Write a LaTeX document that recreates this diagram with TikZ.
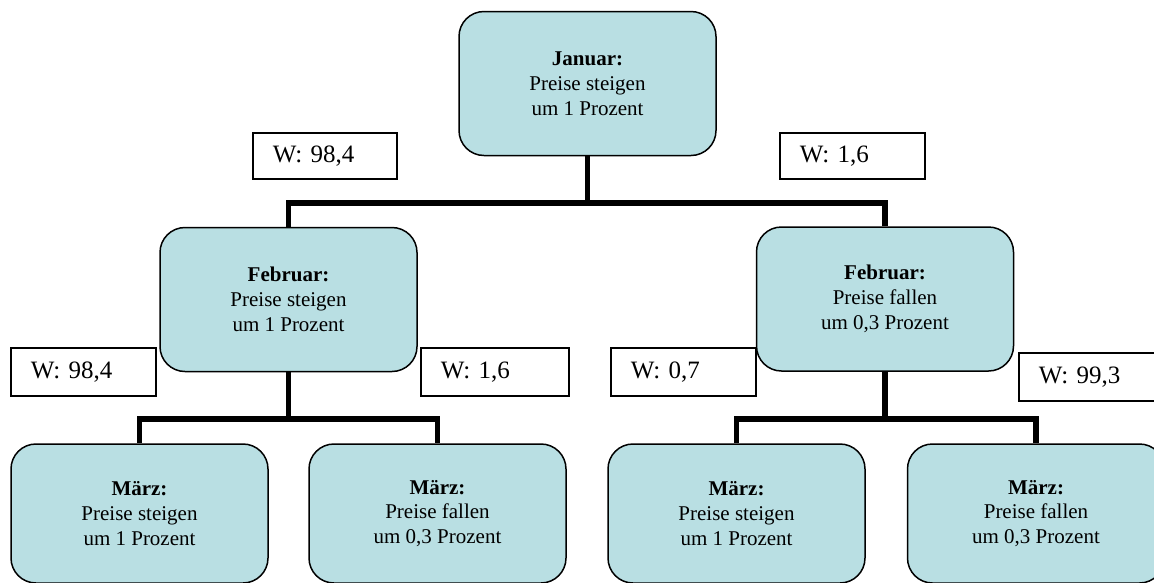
\documentclass[tikz,border=0pt]{standalone}
\usepackage{fontspec}
\setmainfont{Liberation Serif}
\definecolor{boxfill}{RGB}{185,223,227}
\tikzset{
  monthbox/.style={draw=black, line width=1.5pt, fill=boxfill, rounded corners=25pt,
    minimum width=257pt, minimum height=144pt, align=center, inner sep=0pt,
    font=\fontsize{21}{24.8}\selectfont},
  probbox/.style={draw=black, line width=1.5pt, fill=white, anchor=north west,
    minimum height=46pt, inner xsep=20pt, inner ysep=0pt, align=left,
    font=\fontsize{25}{30}\selectfont},
  tree/.style={line width=5.5pt, line join=miter}
}
\begin{document}
\begin{tikzpicture}[x=1pt, y=-1pt]
\useasboundingbox (0,0) rectangle (1154,582);
% month nodes
\node[monthbox] (jan) at (587.5,83.5) {\textbf{Januar:}\\Preise steigen\\um 1 Prozent};
\node[monthbox] (feb1) at (288.5,299.5) {\textbf{Februar:}\\Preise steigen\\um 1 Prozent};
\node[monthbox] (feb2) at (885,299) {\textbf{Februar:}\\Preise fallen\\um 0,3 Prozent};
\node[monthbox, minimum height=139pt] (m1) at (139.5,513.5) {\textbf{März:}\\Preise steigen\\um 1 Prozent};
\node[monthbox, minimum height=139pt] (m2) at (437.5,513.5) {\textbf{März:}\\Preise fallen\\um 0,3 Prozent};
\node[monthbox, minimum height=139pt] (m3) at (736.5,513.5) {\textbf{März:}\\Preise steigen\\um 1 Prozent};
\node[monthbox, minimum height=139pt] (m4) at (1036,513.5) {\textbf{März:}\\Preise fallen\\um 0,3 Prozent};
% junctions
\coordinate (j0) at (587.5,203);
\coordinate (j1) at (288.5,419);
\coordinate (j2) at (885,419);
% connectors
\draw[tree] (jan.south) -- (j0) -| (feb1.north);
\draw[tree] (j0) -| (feb2.north);
\draw[tree] (feb1.south) -- (j1) -| (m1.north);
\draw[tree] (j1) -| (m2.north);
\draw[tree] (feb2.south) -- (j2) -| (m3.north);
\draw[tree] (j2) -| (m4.north);
% probability boxes
\node[probbox, minimum width=144pt, text width=104pt] (w1) at (252,132) {W: 98,4};
\node[probbox, minimum width=145pt, text width=105pt] (w2) at (779,132) {W: 1,6};
\node[probbox, minimum width=145pt, minimum height=48pt, text width=105pt] (w3) at (10,347) {W: 98,4};
\node[probbox, minimum width=148pt, minimum height=48pt, text width=108pt] (w4) at (420,347) {W: 1,6};
\node[probbox, minimum width=145pt, minimum height=48pt, text width=105pt] (w5) at (610,347) {W: 0,7};
\node[probbox, minimum width=145pt, minimum height=48pt, text width=105pt] (w6) at (1018,352) {W: 99,3};
\end{tikzpicture}
\end{document}
